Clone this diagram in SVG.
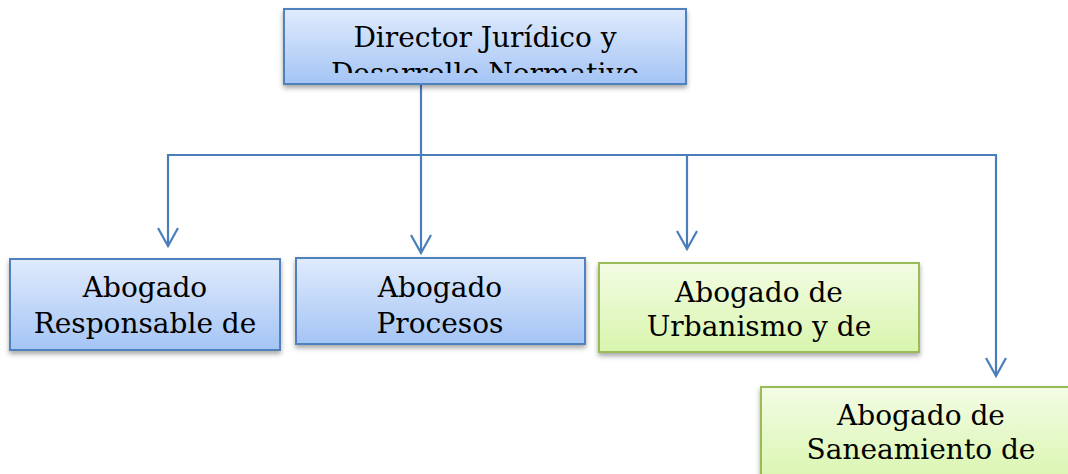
<svg xmlns="http://www.w3.org/2000/svg" width="1068" height="474" viewBox="0 0 1068 474">
<style>
.blue{fill:url(#gb);stroke:#4f81bd;stroke-width:2}
.green{fill:url(#gg);stroke:#9bbb59;stroke-width:2}
.t{font-family:"DejaVu Serif","Liberation Serif",serif;font-size:28px;fill:#000;text-anchor:middle}
.c{fill:none;stroke:#4a7ebb;stroke-width:2.2}
</style>
<defs>
<linearGradient id="gb" x1="0" y1="0" x2="0" y2="1"><stop offset="0" stop-color="#e0ebfc"/><stop offset="1" stop-color="#a4c4f5"/></linearGradient>
<linearGradient id="gg" x1="0" y1="0" x2="0" y2="1"><stop offset="0" stop-color="#f3fce4"/><stop offset="1" stop-color="#d8f5ad"/></linearGradient>
<filter id="sh" x="-10%" y="-20%" width="120%" height="150%"><feDropShadow dx="0" dy="3" stdDeviation="2.5" flood-color="#000" flood-opacity="0.35"/></filter>
<marker id="ar" viewBox="0 0 24 24" markerWidth="24" markerHeight="24" refX="21" refY="12" orient="auto-start-reverse" markerUnits="userSpaceOnUse"><path d="M3 2 L21 12 L3 22" fill="none" stroke="#4a7ebb" stroke-width="2.2"/></marker>
<clipPath id="c0"><rect x="284" y="9" width="402" height="64"/></clipPath>
</defs>
<g id="connectors">
<path class="c" d="M421 85 V253" marker-end="url(#ar)"/>
<path class="c" d="M168 246 V155 H996 V376" marker-start="url(#ar)" marker-end="url(#ar)"/>
<path class="c" d="M687 155 V249" marker-end="url(#ar)"/>
</g>
<g id="n0">
<rect class="blue" x="284" y="9" width="402" height="75" filter="url(#sh)"/>
<g clip-path="url(#c0)"><text class="t" x="485" y="47">Director Jurídico y</text><text class="t" x="485" y="83">Desarrollo Normativo</text></g>
</g>
<g id="n1">
<rect class="blue" x="10" y="259" width="270" height="91" filter="url(#sh)"/>
<text class="t" x="145" y="297">Abogado</text><text class="t" x="145" y="333">Responsable de</text>
</g>
<g id="n2">
<rect class="blue" x="296" y="258" width="289" height="86" filter="url(#sh)"/>
<text class="t" x="440" y="297">Abogado</text><text class="t" x="440" y="333">Procesos</text>
</g>
<g id="n3">
<rect class="green" x="599" y="263" width="320" height="89" filter="url(#sh)"/>
<text class="t" x="759" y="302">Abogado de</text><text class="t" x="759" y="336">Urbanismo y de</text>
</g>
<g id="n4">
<rect class="green" x="761" y="387" width="320" height="100" filter="url(#sh)"/>
<text class="t" x="921" y="425">Abogado de</text><text class="t" x="921" y="459">Saneamiento de</text>
</g>
</svg>
